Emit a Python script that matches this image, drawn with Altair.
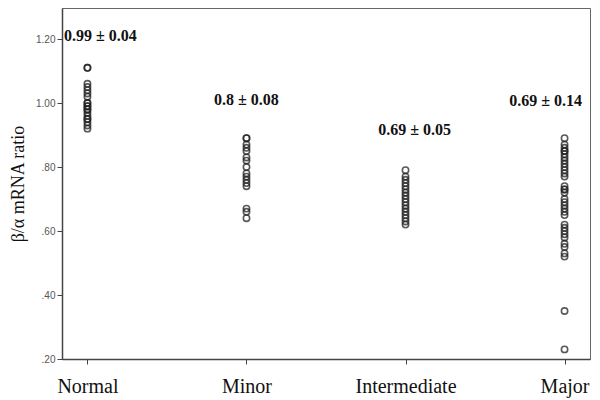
import altair as alt
import pandas as pd

categories = ["Normal", "Minor", "Intermediate", "Major"]

normal_vals = [1.11, 1.11, 1.06, 1.05, 1.04, 1.03, 1.02, 1.00, 1.00, 0.99, 0.99, 0.98,
               0.98, 0.97, 0.96, 0.95, 0.95, 0.94, 0.93, 0.92]
minor_vals = [0.89, 0.89, 0.87, 0.86, 0.85, 0.83, 0.82, 0.80, 0.78, 0.77, 0.76, 0.75,
              0.74, 0.67, 0.66, 0.64]
intermediate_vals = [0.79, 0.77, 0.76, 0.75, 0.74, 0.73, 0.72, 0.71, 0.70, 0.69, 0.68,
                     0.67, 0.66, 0.65, 0.64, 0.63, 0.62]
major_vals = [0.89, 0.87, 0.86, 0.85, 0.85, 0.84, 0.83, 0.82, 0.81, 0.80, 0.79, 0.78,
              0.77, 0.74, 0.73, 0.73, 0.72, 0.70, 0.69, 0.68, 0.67, 0.66, 0.65, 0.62,
              0.61, 0.60, 0.59, 0.58, 0.56, 0.55, 0.53, 0.52, 0.35, 0.23]

label_texts = ["0.99 ± 0.04", "0.8 ± 0.08", "0.69 ± 0.05", "0.69 ± 0.14"]
label_y = [1.21, 1.01, 0.915, 1.006]
label_dx = [13, 0, 9, -19]

y_ticks = [0.2, 0.4, 0.6, 0.8, 1.0, 1.2]

rows = []
for cat, vals in zip(categories, [normal_vals, minor_vals, intermediate_vals, major_vals]):
    for v in vals:
        rows.append({"group": cat, "ratio": v})
df = pd.DataFrame(rows)

ldf = pd.DataFrame({"group": categories, "y": label_y, "text": label_texts, "dx": label_dx})

xscale = alt.Scale(domain=categories, type="point", padding=0.16)
yscale = alt.Scale(domain=[0.2, 1.297], nice=False, zero=False)

points = alt.Chart(df).mark_point(
    shape="circle", filled=False, size=40, strokeWidth=1.6, color="#222", opacity=0.75
).encode(
    x=alt.X("group:N", scale=xscale, sort=categories,
            axis=alt.Axis(title=None, labelAngle=0, labelFont="Liberation Serif",
                          labelFontSize=20, labelColor="#111", labelPadding=12,
                          tickSize=5, tickColor="#444", domainColor="#444",
                          domainWidth=1.5, grid=False)),
    y=alt.Y("ratio:Q", scale=yscale,
            axis=alt.Axis(title="β/α mRNA ratio", values=y_ticks,
                          labelExpr="datum.value < 1 ? '.' + substring(format(datum.value, '.2f'), 2) : format(datum.value, '.2f')",
                          labelFont="Liberation Sans", labelFontSize=10, labelColor="#555",
                          tickSize=5, tickColor="#444", domainColor="#444", domainWidth=1.5,
                          titleFont="Liberation Serif", titleFontSize=18, titleFontWeight="normal",
                          titleColor="#111", titlePadding=8, grid=False)),
)

labels = alt.Chart(ldf).mark_text(
    font="Liberation Serif", fontSize=16, fontWeight="bold", color="#111", baseline="middle"
).encode(
    x=alt.X("group:N", scale=xscale, sort=categories),
    y=alt.Y("y:Q", scale=yscale),
    text="text:N",
    xOffset=alt.XOffset("dx:Q", scale=None),
)

chart = (points + labels).properties(
    width=528, height=351,
    autosize=alt.AutoSizeParams(type="none"),
    padding={"left": 54, "top": 0, "right": 2, "bottom": 40},
).configure_view(stroke="#666", strokeWidth=1)

chart.save("out.html", embed_options={"renderer": "svg", "actions": False})
